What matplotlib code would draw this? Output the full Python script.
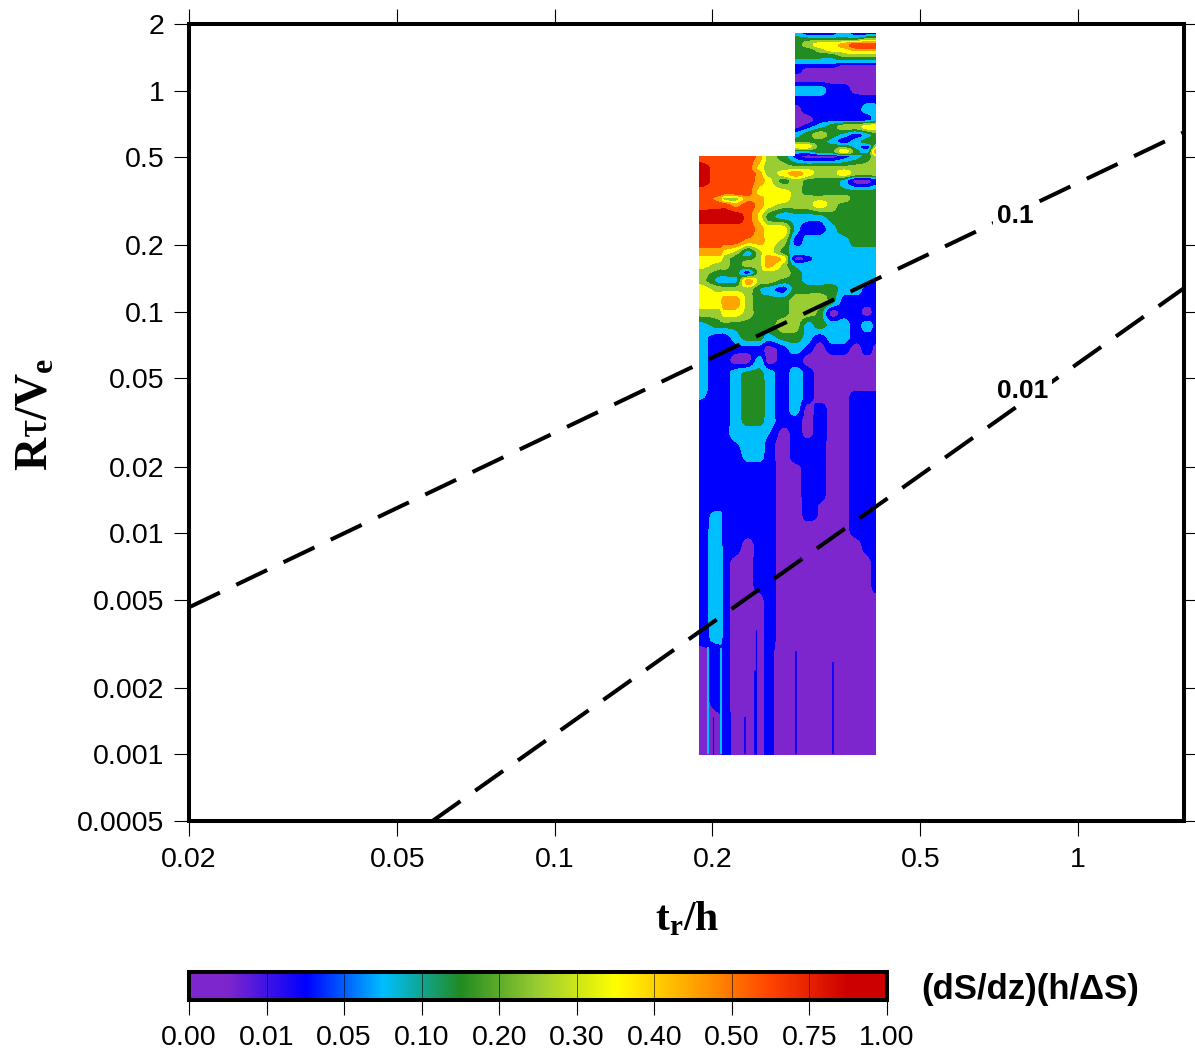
#!/usr/bin/env python3
# -*- coding: utf-8 -*-
import numpy as np
import matplotlib
matplotlib.use("Agg")
import matplotlib.pyplot as plt
from matplotlib.colors import LinearSegmentedColormap

plt.rcParams["font.family"] = ["Liberation Sans", "DejaVu Sans"]
plt.rcParams["mathtext.fontset"] = "custom"
plt.rcParams["mathtext.rm"] = "Liberation Serif:bold"
plt.rcParams["mathtext.it"] = "Liberation Serif:bold"
plt.rcParams["mathtext.bf"] = "Liberation Serif:bold"
plt.rcParams["mathtext.cal"] = "Liberation Serif"

# colour classes between the colour bar ticks
band_labels = ["0.00", "0.01", "0.05", "0.10", "0.20", "0.30", "0.40", "0.50", "0.75", "1.00"]
band_colors = ["#7D26CD", "#0000FF", "#00BFFF", "#228B22", "#9ACD32",
               "#FFFF00", "#FFA500", "#FF4500", "#CD0000"]

# grid of the sampled field
tr_h = [0.1894, 0.2069, 0.2104, 0.2218, 0.2339, 0.2466, 0.2555, 0.2741,
        0.2889, 0.3046, 0.3211, 0.3385, 0.3569, 0.3763, 0.3967, 0.4109]

rtau_upper = [1.811, 1.701, 1.615, 1.533, 1.455, 1.353, 1.298, 1.245, 1.121, 1.010,
              0.910, 0.820, 0.739, 0.687, 0.632, 0.588, 0.558, 0.530]
rtau_lower = [0.503, 0.444, 0.421, 0.392, 0.345, 0.325, 0.305, 0.269, 0.237, 0.209, 0.185,
              0.174, 0.163, 0.150, 0.138, 0.127, 0.112, 0.0990, 0.0873, 0.0771, 0.0680, 0.0600,
              0.0530, 0.0467, 0.0412, 0.0364, 0.0321, 0.0283, 0.0250, 0.0221, 0.0195, 0.0152,
              0.0134, 0.0121, 0.0103, 0.00882, 0.00717, 0.00582, 0.00498, 0.00384, 0.00328,
              0.00296, 0.00175, 0.00135, 0.001]

# class of each node, upper part only exists for the 8 right columns
field_upper = [
    [2, 1, 1, 1, 2, 1, 1, 1],
    [3, 3, 3, 3, 3, 3, 4, 4],
    [3, 4, 5, 5, 6, 7, 7, 7],
    [3, 3, 4, 5, 5, 6, 6, 6],
    [3, 3, 3, 3, 4, 4, 4, 4],
    [2, 2, 2, 2, 2, 2, 2, 2],
    [1, 1, 1, 1, 0, 0, 0, 0],
    [1, 0, 0, 0, 0, 0, 0, 0],
    [0, 0, 0, 0, 0, 0, 0, 0],
    [2, 2, 2, 1, 1, 0, 0, 0],
    [1, 1, 1, 1, 1, 1, 1, 1],
    [0, 1, 1, 1, 1, 1, 2, 2],
    [0, 0, 1, 1, 1, 1, 1, 2],
    [0, 1, 2, 3, 4, 4, 5, 5],
    [2, 3, 4, 3, 2, 1, 2, 3],
    [3, 3, 3, 2, 1, 2, 3, 3],
    [5, 5, 3, 3, 3, 2, 1, 4],
    [2, 2, 3, 3, 5, 3, 2, 6],
]

field_lower = [
    [7, 7, 7, 7, 7, 6, 4, 3, 1, 0, 0, 0, 1, 2, 3, 4],
    [8, 7, 7, 7, 7, 5, 4, 4, 4, 4, 4, 4, 4, 4, 4, 4],
    [8, 7, 7, 7, 7, 6, 4, 5, 6, 5, 4, 4, 5, 4, 4, 4],
    [8, 7, 7, 7, 7, 6, 5, 3, 4, 3, 3, 3, 2, 0, 0, 1],
    [7, 7, 7, 7, 7, 5, 5, 5, 4, 3, 3, 3, 3, 3, 3, 3],
    [7, 6, 4, 4, 6, 6, 5, 5, 4, 4, 4, 4, 4, 3, 3, 3],
    [7, 7, 7, 6, 7, 6, 5, 4, 4, 4, 5, 4, 3, 3, 3, 3],
    [8, 8, 8, 8, 7, 5, 3, 2, 2, 2, 2, 3, 3, 3, 3, 3],
    [7, 7, 7, 7, 7, 6, 5, 5, 2, 1, 1, 2, 3, 3, 3, 3],
    [7, 7, 7, 7, 6, 6, 5, 4, 1, 2, 2, 2, 2, 3, 3, 3],
    [6, 6, 5, 4, 2, 4, 5, 3, 2, 2, 2, 2, 2, 2, 2, 2],
    [5, 5, 4, 3, 3, 4, 6, 5, 0, 1, 2, 2, 2, 2, 2, 2],
    [5, 4, 4, 3, 4, 4, 6, 4, 2, 2, 2, 2, 2, 2, 2, 2],
    [4, 3, 3, 3, 1, 4, 4, 4, 3, 2, 2, 2, 2, 2, 2, 2],
    [4, 2, 2, 2, 6, 4, 4, 3, 3, 2, 2, 2, 2, 2, 2, 1],
    [5, 4, 4, 4, 4, 2.5, 2, 1, 3, 3, 3, 3, 2, 2, 1, 1],
    [5, 5, 6, 6, 4, 3, 3, 3, 4, 4, 4, 3, 1, 1, 1, 1],
    [4, 4, 5, 5, 4, 3, 3, 3, 4, 4, 3, 0, 1, 1, 0, 1],
    [2, 3, 3, 3, 3, 3, 3, 4, 4, 2, 3, 2, 2, 1, 2, 1],
    [1.8, 1, 1, 2, 3, 3, 2, 3, 3, 2, 1, 2, 2, 1, 1, 1],
    [1.8, 1, 1, 1, 1, 1, 0, 1, 2, 1, 0, 1, 1, 0, 1, 0],
    [1.8, 1, 1, 0, 0, 2, 0, 1, 1, 0, 0, 0, 0, 0, 0, 0],
    [1.8, 1, 1, 2, 2.7, 2.7, 2, 1, 2, 1, 0, 0, 0, 0, 0, 0],
    [1.8, 1, 1, 2, 3, 3, 2, 1, 2, 1, 0, 0, 0, 0, 0, 0],
    [1.6, 1, 1, 2, 3, 3, 2, 1, 2, 1, 0, 0, 0, 1, 1, 1],
    [1, 1, 1, 2, 3, 3, 2, 1, 2, 0, 1, 0, 0, 1, 1, 1],
    [1, 1, 1, 2, 2.8, 2.8, 2, 1, 1, 0, 1, 0, 0, 1, 1, 1],
    [1, 1, 1, 2, 2, 2, 1.6, 0, 1, 0, 1, 0, 0, 1, 1, 1],
    [1, 1, 1, 1.3, 2, 2, 1, 0, 1, 1, 1, 0, 0, 1, 1, 1],
    [1, 1, 1, 1, 1.8, 1.8, 1, 0, 1, 1, 1, 0, 0, 1, 1, 1],
    [1, 1, 1, 1, 1, 1, 1, 0, 0, 1, 1, 0, 0, 1, 1, 1],
    [1, 1, 1, 1, 1, 1, 1, 0, 0, 1, 1, 0, 0, 1, 1, 1],
    [1, 1, 1, 1, 1, 1, 1, 0, 0, 0.8, 0.4, 0, 0, 1, 1, 1],
    [1, 1.8, 1, 1, 1, 1, 1, 0, 0, 0.8, 0.4, 0, 0, 1, 1, 1],
    [1, 2, 1, 1, 1, 1, 1, 0, 0, 0, 0, 0, 0, 1, 1, 1],
    [1, 2, 1, 1, 0, 1, 1, 0, 0, 0, 0, 0, 0, 0, 1, 1],
    [1, 2, 1, 0, 0, 1, 1, 0, 0, 0, 0, 0, 0, 0, 0, 1],
    [1, 2, 1, 0, 0, 1, 1, 0, 0, 0, 0, 0, 0, 0, 0, 1],
    [1, 2, 1, 0, 0, 0, 0.8, 0, 0, 0, 0, 0, 0, 0, 0, 0],
    [1, 2, 1, 0, 0, 0, 0.8, 0, 0, 0, 0, 0, 0, 0, 0, 0],
    [1, 1.8, 1, 0, 0, 0, 0.8, 0, 0, 0, 0, 0, 0, 0, 0, 0],
    [0, 1, 1, 0, 0, 0, 0.7, 0, 0, 0, 0, 0, 0, 0, 0, 0],
    [0, 1, 1, 0, 0, 0, 0.7, 0, 0, 0, 0, 0, 0, 0, 0, 0],
    [0, 0, 1, 0, 0, 0, 0.7, 0, 0, 0, 0, 0, 0, 0, 0, 0],
    [0, 0, 1, 0, 0, 0, 0.7, 0, 0, 0, 0, 0, 0, 0, 0, 0],
]

# thin vertical features near the bottom, all start at the 0.001 edge
spike_x = [0.1961, 0.2077, 0.2308, 0.2412, 0.2426, 0.2898, 0.3405, 0.2009]
spike_top = [0.00305, 0.00302, 0.00147, 0.0024, 0.00364, 0.00293, 0.00261, 0.00147]
spike_class = [2, 2, 1, 1, 1, 1, 1, 1]
spike_lw = [1.5, 1.5, 1.2, 2.0, 0.8, 1.2, 1.2, 0.8]

line1_x = [0.02, 1.595]
line1_y = [0.00462, 0.648]
line2_x = [0.0584, 1.595]
line2_y = [0.0005, 0.128]

x_ticks = [0.02, 0.05, 0.1, 0.2, 0.5, 1]
x_ticklabels = ["0.02", "0.05", "0.1", "0.2", "0.5", "1"]
y_ticks = [0.0005, 0.001, 0.002, 0.005, 0.01, 0.02, 0.05, 0.1, 0.2, 0.5, 1, 2]
y_ticklabels = ["0.0005", "0.001", "0.002", "0.005", "0.01", "0.02", "0.05", "0.1", "0.2", "0.5", "1", "2"]


def refine_axis(a, k, axis):
    """Catmull-Rom between nodes along one axis, clipped so a cell never overshoots its ends."""
    a = np.moveaxis(a, axis, 0)
    n = a.shape[0]
    out = []
    for i in range(n - 1):
        p0, p1, p2, p3 = a[max(i - 1, 0)], a[i], a[i + 1], a[min(i + 2, n - 1)]
        for t in np.arange(k) / k:
            v = 0.5 * (2 * p1 + (p2 - p0) * t + (2 * p0 - 5 * p1 + 4 * p2 - p3) * t ** 2
                       + (3 * p1 - p0 - 3 * p2 + p3) * t ** 3)
            out.append(np.clip(v, np.minimum(p1, p2), np.maximum(p1, p2)))
    out.append(a[-1])
    return np.moveaxis(np.array(out), 0, axis)


def refine_coord(c, k):
    c = np.log10(c)
    return 10 ** np.interp(np.arange((len(c) - 1) * k + 1) / k, np.arange(len(c)), c)


def draw_block(ax, xs, ys, values, k=6):
    z = refine_axis(refine_axis(np.array(values, dtype=float) + 0.5, k, 0), k, 1)
    ax.contourf(refine_coord(xs, k), refine_coord(ys, k), z, levels=np.arange(10),
                colors=band_colors, zorder=1)


W, H = 1195, 1055
fig = plt.figure(figsize=(W / 100, H / 100), dpi=100)
ax = fig.add_axes([189 / W, 1 - 821 / H, 995 / W, 797 / H])

draw_block(ax, tr_h[8:], rtau_upper + rtau_lower[:1],
           field_upper + [field_lower[0][8:]])
draw_block(ax, tr_h, rtau_lower, field_lower)
ax.vlines(spike_x, 0.001, spike_top, colors=[band_colors[c] for c in spike_class],
          linewidths=spike_lw, zorder=2)

dash = (0, (8.5, 4.5))
ax.plot(line1_x, line1_y, color="black", lw=2.9, ls=dash, dash_capstyle="butt", zorder=3)
ax.plot(line2_x, line2_y, color="black", lw=2.9, ls=dash, dash_capstyle="butt", zorder=3)
box = dict(facecolor="white", edgecolor="none", pad=2.5)
ax.text(0.758, 0.272, "0.1", fontsize=19, fontweight="bold", ha="center", va="center", bbox=box, zorder=4)
ax.text(0.785, 0.0439, "0.01", fontsize=19, fontweight="bold", ha="center", va="center", bbox=box, zorder=4)

ax.set_xscale("log")
ax.set_yscale("log")
ax.set_xlim(0.02, 1.595)
ax.set_ylim(0.0005, 2)
ax.set_xticks(x_ticks, x_ticklabels)
ax.set_yticks(y_ticks, y_ticklabels)
ax.minorticks_off()
ax.tick_params(axis="both", which="major", direction="out", length=10.5, width=0.8,
               labelsize=20.5, top=True, right=True)
ax.tick_params(axis="y", pad=7)
ax.tick_params(axis="x", pad=8)
for sp in ax.spines.values():
    sp.set_linewidth(2.9)
    sp.set_zorder(6)

fig.text(687 / W, 1 - 919 / H, r"$\mathbf{t_r/h}$", fontsize=30, ha="center", va="center")
fig.text(36 / W, 1 - 414 / H, r"$\mathbf{R}\mathcal{\tau}\mathbf{/V_e}$", fontsize=33, rotation=90,
         ha="center", va="center")

# colour bar, pure colour at the middle of each band
cax = fig.add_axes([189 / W, 1 - 1000 / H, 698 / W, 28 / H])
n = len(band_colors)
nodes = [(0.0, band_colors[0])] + [((i + 0.5) / n, c) for i, c in enumerate(band_colors)] + [(1.0, band_colors[-1])]
cmap = LinearSegmentedColormap.from_list("bands", nodes, N=512)
cax.imshow(np.linspace(0, 1, 700).reshape(1, -1), cmap=cmap, aspect="auto", extent=[0, n, 0, 1], vmin=0, vmax=1)
cax.vlines(range(1, n), 0, 1, colors="black", linewidths=0.6, alpha=0.7)
cax.set_xticks(range(n + 1), band_labels)
cax.set_yticks([])
cax.tick_params(axis="x", direction="out", length=10.5, width=0.8, labelsize=20.5, pad=7.5)
for sp in cax.spines.values():
    sp.set_linewidth(2.9)
fig.text(1030 / W, 1 - 990 / H, "(dS/dz)(h/\u0394S)", fontsize=25, fontweight="bold", ha="center", va="center")

fig.savefig("out.png", dpi=100)
